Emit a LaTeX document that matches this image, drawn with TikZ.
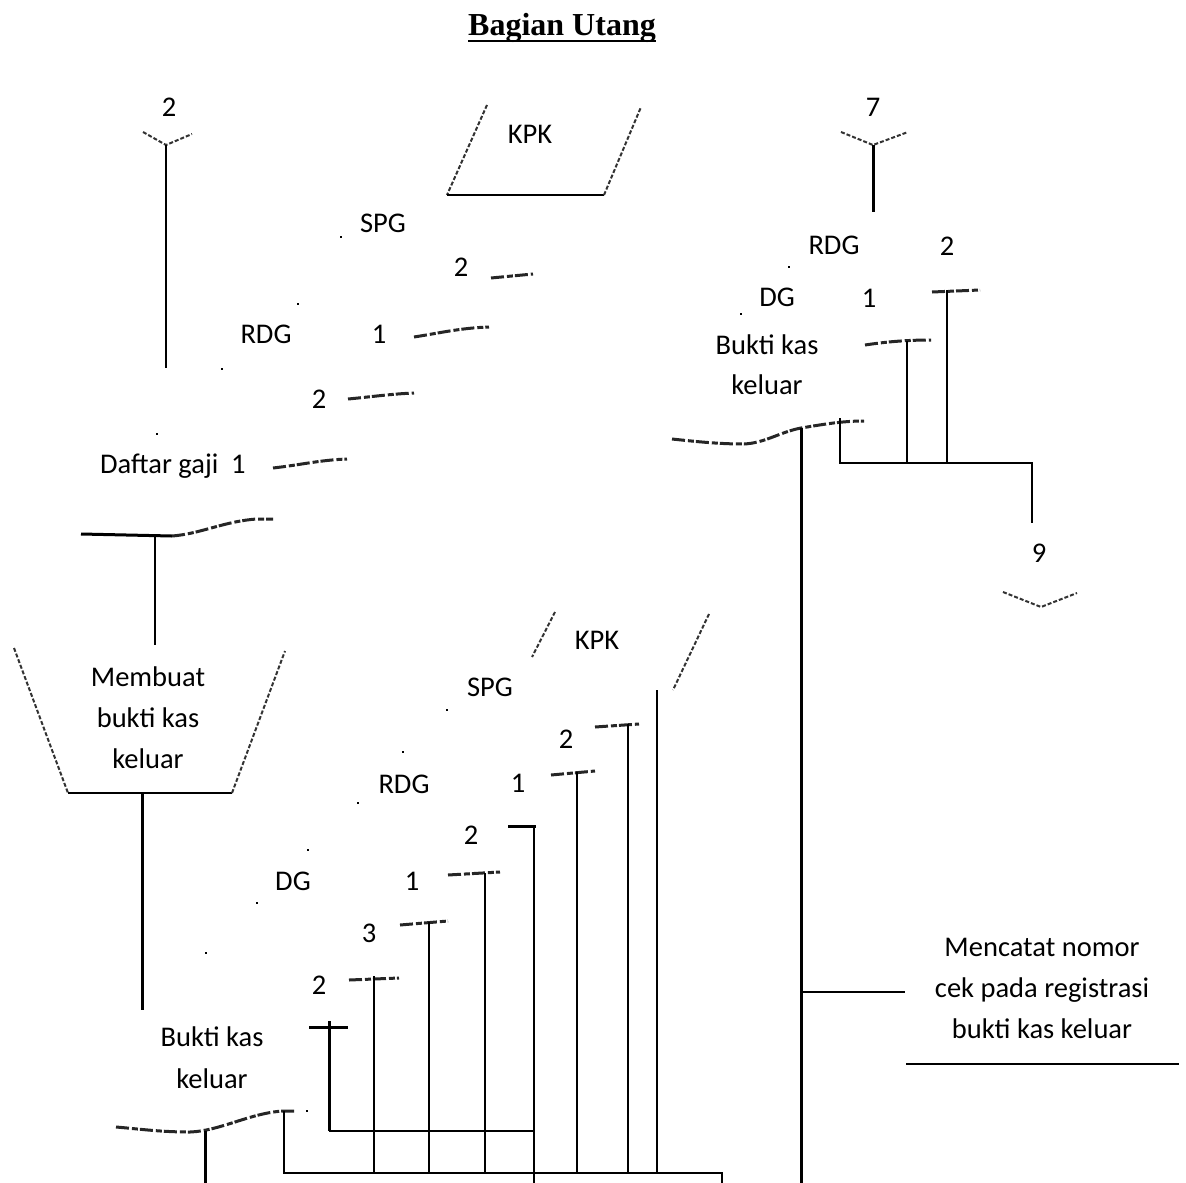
\documentclass[tikz,border=0pt]{standalone}
\usepackage{fontspec}
\setmainfont{Carlito}
\newfontfamily\titlefont{Liberation Serif}
\newcommand{\bodyfnt}{\fontsize{28.5}{41}\selectfont}
\begin{document}
\begin{tikzpicture}[x=1pt,y=-1pt,
  ln/.style={line width=2pt},
  lnb/.style={line width=3pt},
  frag/.style={line width=3pt, dash pattern=on 13pt off 3pt on 6pt off 2pt, black!85},
  sdash/.style={line width=2pt, dash pattern=on 4pt off 2pt, black!80},
  txt/.style={font=\bodyfnt, inner sep=0pt, anchor=base},
  dotm/.style={fill=black, draw=none, inner sep=0pt, minimum size=2.5pt}]
\useasboundingbox (0,0) rectangle (1186,1183);

% ---------- title
\node[anchor=base, inner sep=0pt, font=\titlefont\bfseries\fontsize{32}{38}\selectfont] (title) at (562,35) {Bagian Utang};
\draw[ln] ([yshift=-6pt]title.base west) -- ([yshift=-6pt]title.base east);

% ---------- texts
\node[txt] (c2) at (169,116) {2};
\node[txt] (c7) at (873,116) {7};
\node[txt] (kpkA) at (530,143) {KPK};
\node[txt] (spgA) at (383,232) {SPG};
\node[txt] (nA2) at (461,276) {2};
\node[txt] (rdgA) at (266,343) {RDG};
\node[txt] (nA1) at (379,343) {1};
\node[txt] (nA2b) at (319,408) {2};
\node[txt, anchor=base west] (dgaji) at (100,473) {Daftar gaji\ \ 1};

\node[txt] (rdgB) at (834,254) {RDG};
\node[txt] (nB2) at (947,255) {2};
\node[txt] (dgB) at (777,306) {DG};
\node[txt] (nB1) at (869,307) {1};
\node[txt] (bkBa) at (767,354) {Bukti kas};
\node[txt] (bkBb) at (767,394) {keluar};
\node[txt] (c9) at (1039,562) {9};

\node[txt] (mba) at (148,686) {Membuat};
\node[txt] (mbb) at (148,727) {bukti kas};
\node[txt] (mbc) at (148,768) {keluar};

\node[txt] (kpkC) at (597,649) {KPK};
\node[txt] (spgC) at (490,696) {SPG};
\node[txt] (nC2) at (566,748) {2};
\node[txt] (rdgC) at (404,793) {RDG};
\node[txt] (nC1) at (518,792) {1};
\node[txt] (nC2b) at (471,844) {2};
\node[txt] (dgC) at (293,890) {DG};
\node[txt] (nC1b) at (412,890) {1};
\node[txt] (nC3) at (369,942) {3};
\node[txt] (nC2c) at (319,994) {2};
\node[txt] (bkCa) at (212,1046) {Bukti kas};
\node[txt] (bkCb) at (212,1088) {keluar};

\node[txt] (mca) at (1042,956) {Mencatat nomor};
\node[txt] (mcb) at (1042,997) {cek pada registrasi};
\node[txt] (mcc) at (1042,1038) {bukti kas keluar};

% ---------- dots
\foreach \i/\p in {1/{(341,237)},2/{(298,304)},3/{(222,369)},4/{(157,434)},
  5/{(789,267)},6/{(741,314)},7/{(447,710)},8/{(403,752)},9/{(358,803)},
  10/{(308,850)},11/{(257,903)},12/{(206,953)},13/{(307,1111)}}
  \node[dotm] (dot\i) at \p {};

% ---------- coordinates
\coordinate (vA1) at (143,132); \coordinate (vA2) at (166,145); \coordinate (vA3) at (192,134);
\coordinate (vAe) at (166,368);
\coordinate (vB1) at (841,132); \coordinate (vB2) at (873,145); \coordinate (vB3) at (908,132);
\coordinate (vBe) at (873,212);
\coordinate (v9a) at (1003,592); \coordinate (v9b) at (1041,607); \coordinate (v9c) at (1077,593);

\coordinate (kA1) at (487,105); \coordinate (kA2) at (447,195); \coordinate (kA3) at (604,195); \coordinate (kA4) at (641,107);
\coordinate (kC1) at (555,612); \coordinate (kC2) at (532,657); \coordinate (kC3) at (709,614); \coordinate (kC4) at (673,690);

\coordinate (tr1) at (14,648); \coordinate (tr2) at (68,793); \coordinate (tr3) at (232,793); \coordinate (tr4) at (285,651);
\coordinate (trb) at (142,793); \coordinate (trbe) at (142,1010);

% top-left document wave
\coordinate (dA1) at (81,534); \coordinate (dA2) at (172,536); \coordinate (dA3) at (257,519); \coordinate (dA4) at (273,519);
\coordinate (dAv) at (155,535); \coordinate (dAve) at (155,645);

% top-right document wave
\coordinate (dB1) at (672,439); \coordinate (dB2) at (744,444); \coordinate (dB3) at (801,428); \coordinate (dB4) at (864,421);
\coordinate (dBe) at (801,1183);
\coordinate (br1) at (840,418); \coordinate (br2) at (840,463); \coordinate (br3) at (1032,463); \coordinate (br4) at (1032,523);
\coordinate (tk1) at (947,290); \coordinate (tk1b) at (947,463);
\coordinate (tk2) at (907,341); \coordinate (tk2b) at (907,463);
\coordinate (mcbr) at (801,992); \coordinate (mcbre) at (905,992);
\coordinate (mcl1) at (906,1064); \coordinate (mcl2) at (1179,1064);

% bottom document wave
\coordinate (dC1) at (116,1127); \coordinate (dC2) at (190,1132); \coordinate (dC3) at (283,1111); \coordinate (dC4) at (295,1111);
\coordinate (dCv) at (205,1131); \coordinate (dCve) at (205,1183);

% ---------- connector / off-page fragments
\draw[sdash] (vA1) -- (vA2) -- (vA3);
\draw[ln] (vA2) -- (vAe);
\draw[sdash] (vB1) -- (vB2) -- (vB3);
\draw[lnb] (vB2) -- (vBe);
\draw[sdash] (v9a) -- (v9b) -- (v9c);

% KPK shapes
\draw[sdash] (kA1) -- (kA2);
\draw[ln] (kA2) -- (kA3);
\draw[sdash] (kA3) -- (kA4);
\draw[sdash] (kC1) -- (kC2);
\draw[sdash] (kC3) -- (kC4);

% manual operation
\draw[sdash] (tr1) -- (tr2);
\draw[ln] (tr2) -- (tr3);
\draw[sdash] (tr3) -- (tr4);
\draw[lnb] (trb) -- (trbe);

% top-left stacked document edges
\draw[frag] (491,278) -- (533,274);
\draw[frag] (414,337) .. controls (440,333) and (460,328) .. (489,327);
\draw[frag] (348,399) .. controls (370,397) and (390,394) .. (414,393);
\draw[frag] (273,468) .. controls (300,465) and (320,460) .. (347,459);
\draw[lnb] (dA1) -- (dA2);
\draw[frag] (dA2) .. controls (200,534) and (225,521) .. (dA3) -- (dA4);
\draw[ln] (dAv) -- (dAve);

% top-right stacked document edges
\draw[frag] (932,292) -- (980,290);
\draw[frag] (865,345) .. controls (885,342) and (905,340) .. (931,340);
\draw[frag] (dB1) .. controls (700,442) and (720,444) .. (dB2) .. controls (765,443) and (780,432) .. (dB3) .. controls (820,425) and (840,421) .. (dB4);
\draw[lnb] (dB3) -- (dBe);
\draw[ln] (tk1) -- (tk1b);
\draw[ln] (tk2) -- (tk2b);
\draw[ln] (br1) -- (br2) -- (br3) -- (br4);
\draw[ln] (mcbr) -- (mcbre);
\draw[ln] (mcl1) -- (mcl2);

% bottom stacked document edges
\draw[frag] (595,727) -- (639,724);
\draw[ln] (628,724) -- (628,1173);
\draw[frag] (551,775) -- (595,771);
\draw[ln] (577,772) -- (577,1173);
\draw[lnb] (508,826) -- (536,826);
\draw[ln] (534,826) -- (534,1183);
\draw[frag] (448,875) -- (500,872);
\draw[ln] (485,873) -- (485,1173);
\draw[frag] (400,925) -- (448,921);
\draw[ln] (429,922) -- (429,1173);
\draw[frag] (349,980) -- (399,978);
\draw[ln] (374,976) -- (374,1173);
\draw[lnb] (309,1027) -- (348,1027);
\draw[lnb] (329,1021) -- (329,1131);
\draw[ln] (329,1131) -- (534,1131);
\draw[ln] (657,690) -- (657,1173);
\draw[frag] (dC1) .. controls (140,1129) and (160,1132) .. (dC2) .. controls (220,1131) and (250,1113) .. (dC3) -- (dC4);
\draw[lnb] (dCv) -- (dCve);
\draw[ln] (284,1111) -- (284,1173) -- (722,1173) -- (722,1183);
\end{tikzpicture}
\end{document}
